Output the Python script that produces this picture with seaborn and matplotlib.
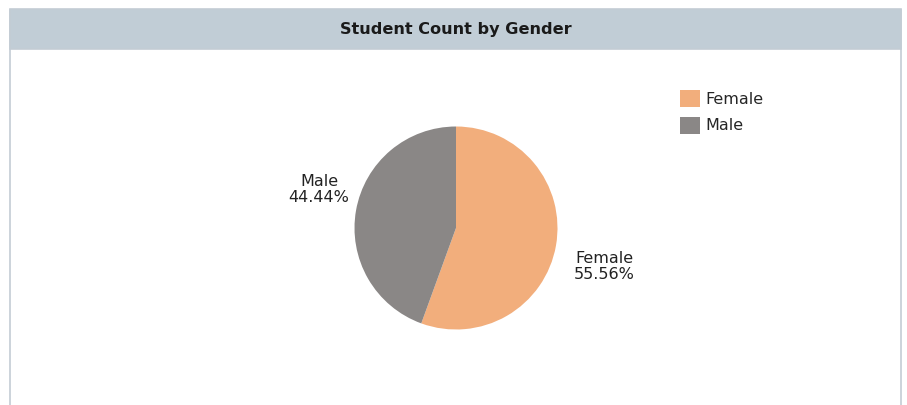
import matplotlib
matplotlib.use("Agg")
import matplotlib.pyplot as plt
from matplotlib.patches import Rectangle, Patch
import seaborn as sns
import numpy as np

sns.set_theme(style="white")
plt.rcParams['font.family'] = ['DejaVu Sans']

# Data
genders = ["Female", "Male"]
counts = [5, 4]
colors = ["#f2ae7c", "#8a8786"]
title = "Student Count by Gender"

W, H = 907, 405
fig = plt.figure(figsize=(W / 100, H / 100), dpi=100)
fig.patch.set_facecolor("white")

def px(x, y):
    # pixel (top-left origin) -> figure fraction
    return x / W, 1 - y / H

# panel border and header band
x0, x1, top, hbot = 10, 901, 9.5, 49
fig.patches.append(Rectangle(px(x0, H + 5), (x1 - x0) / W, (H + 5 - top) / H,
                             transform=fig.transFigure, facecolor="white",
                             edgecolor="#c3ccd4", linewidth=1.2, zorder=0))
fig.patches.append(Rectangle(px(x0, hbot), (x1 - x0) / W, (hbot - top) / H,
                             transform=fig.transFigure, facecolor="#c1cdd6",
                             edgecolor="#c3ccd4", linewidth=1.2, zorder=1))
fig.text(*px((x0 + x1) / 2, (top + hbot) / 2), title, ha="center", va="center",
         fontsize=11.6, fontweight="bold", color="#1a1a1a")

# pie axes
cx, cy, r = 456, 228, 101.5
ax = fig.add_axes([(cx - r) / W, (H - cy - r) / H, 2 * r / W, 2 * r / H])
ax.set_zorder(3)
ax.patch.set_alpha(0)
wedges, _ = ax.pie(counts, colors=colors, startangle=90, counterclock=False,
                   wedgeprops=dict(linewidth=0))
ax.set_xlim(-1, 1)
ax.set_ylim(-1, 1)
ax.set_aspect("auto")
ax.axis("off")

total = sum(counts)
for w, g, c in zip(wedges, genders, counts):
    mid = np.deg2rad((w.theta1 + w.theta2) / 2)
    sx, sy = np.sign(np.cos(mid)), np.sign(np.sin(mid))
    ax.text(1.405 * sx + 0.055, 0.38 * sy,
            f"{g}\n{c / total * 100:.2f}%", ha="center", va="center",
            multialignment="center", fontsize=11.5,
            color="#222222", linespacing=1.15, clip_on=False)

# legend
handles = [Patch(facecolor=col, edgecolor="none", label=g) for g, col in zip(genders, colors)]
fig.legend(handles=handles, loc="upper left", bbox_to_anchor=px(669, 79),
           frameon=False, fontsize=11.5, handlelength=1.25, handleheight=1.25,
           handletextpad=0.35, labelspacing=0.6, borderpad=0.2)

fig.savefig("out.png", dpi=100)
